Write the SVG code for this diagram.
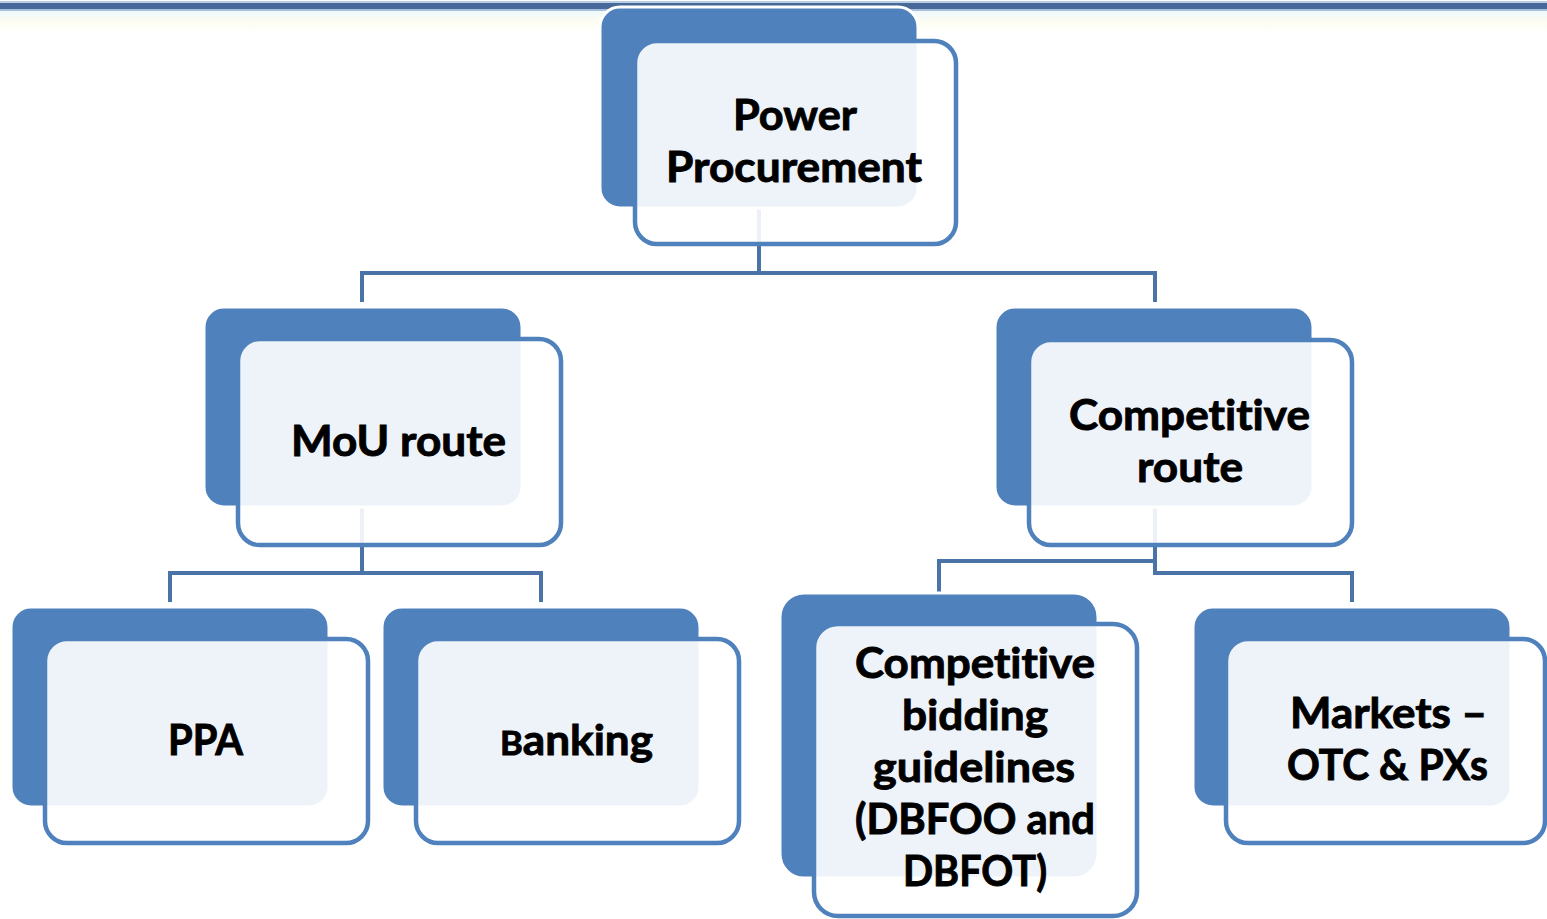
<svg xmlns="http://www.w3.org/2000/svg" width="1547" height="919" viewBox="0 0 1547 919">
  <defs>
    <linearGradient id="haze" x1="0" y1="0" x2="0" y2="1">
      <stop offset="0" stop-color="#EEF8FB"/>
      <stop offset="0.5" stop-color="#FDFDF2"/>
      <stop offset="1" stop-color="#FFFFFF"/>
    </linearGradient>
  </defs>
  <style>
    .back { fill: #4F81BD; stroke: #FFFFFF; stroke-width: 3; }
    .front { fill: #FFFFFF; fill-opacity: 0.9; stroke: #4F81BD; stroke-width: 4.5; }
    .conn { fill: none; stroke: #4A73A8; stroke-width: 4; stroke-linejoin: miter; }
    .lbl { font-family: Lato, "Open Sans", "Liberation Sans", sans-serif; font-weight: bold; font-size: 42px; fill: #000000; stroke: #000000; stroke-width: 0.9; text-anchor: middle; font-variant-ligatures: none; font-feature-settings: "liga" 0, "clig" 0; }
  </style>

  <rect width="1547" height="919" fill="#FFFFFF"/>

  <!-- header rule -->
  <g id="header">
    <rect x="0" y="11" width="1547" height="22" fill="url(#haze)"/>
    <rect x="0" y="1" width="1547" height="2" fill="#B9CDE5"/>
    <rect x="0" y="3" width="1547" height="6" fill="#46699A"/>
    <rect x="0" y="9" width="1547" height="2" fill="#A8BFDC"/>
  </g>

  <!-- connectors -->
  <g id="connectors">
    <path class="conn" d="M759 208 V273 M362 302 V273 H1155 V302"/>
    <path class="conn" d="M362 507 V573 M170 602 V573 H541 V602"/>
    <path class="conn" d="M1155 507 V573 H1352 V602 M1155 561 H939 V596"/>
  </g>

  <g id="node-power">
    <rect class="back" x="600" y="7" width="318" height="201" rx="20"/>
    <rect class="front" x="635" y="41" width="321" height="203" rx="22"/>
    <text class="lbl" x="795" y="130" textLength="124" lengthAdjust="spacingAndGlyphs">Power</text>
    <text class="lbl" x="794" y="182" textLength="256" lengthAdjust="spacingAndGlyphs">Procurement</text>
  </g>

  <g id="node-mou">
    <rect class="back" x="204" y="307" width="318" height="200" rx="20"/>
    <rect class="front" x="238" y="339" width="323" height="206" rx="22"/>
    <text class="lbl" x="398.5" y="456" textLength="215" lengthAdjust="spacingAndGlyphs">MoU route</text>
  </g>

  <g id="node-competitive">
    <rect class="back" x="995" y="307" width="318" height="200" rx="20"/>
    <rect class="front" x="1029" y="340" width="323" height="205" rx="22"/>
    <text class="lbl" x="1189.5" y="430" textLength="241" lengthAdjust="spacingAndGlyphs">Competitive</text>
    <text class="lbl" x="1190" y="482" textLength="106" lengthAdjust="spacingAndGlyphs">route</text>
  </g>

  <g id="node-ppa">
    <rect class="back" x="11" y="607" width="318" height="200" rx="20"/>
    <rect class="front" x="45" y="639" width="323" height="204" rx="22"/>
    <text class="lbl" x="205.5" y="755" textLength="75" lengthAdjust="spacingAndGlyphs">PPA</text>
  </g>

  <g id="node-banking">
    <rect class="back" x="382" y="607" width="318" height="200" rx="20"/>
    <rect class="front" x="416" y="639" width="323" height="204" rx="22"/>
    <text class="lbl" x="576.5" y="755" textLength="153" lengthAdjust="spacingAndGlyphs"><tspan font-size="33">B</tspan>anking</text>
  </g>

  <g id="node-bidding">
    <rect class="back" x="780" y="593" width="318" height="285" rx="24"/>
    <rect class="front" x="814" y="624" width="323" height="292" rx="24"/>
    <text class="lbl" x="975" y="678" textLength="240" lengthAdjust="spacingAndGlyphs">Competitive</text>
    <text class="lbl" x="975" y="730" textLength="146" lengthAdjust="spacingAndGlyphs">bidding</text>
    <text class="lbl" x="974" y="782" textLength="202" lengthAdjust="spacingAndGlyphs">guidelines</text>
    <text class="lbl" x="975" y="834" textLength="240" lengthAdjust="spacingAndGlyphs">(DBFOO and</text>
    <text class="lbl" x="975" y="886" textLength="144" lengthAdjust="spacingAndGlyphs">DBFOT)</text>
  </g>

  <g id="node-markets">
    <rect class="back" x="1193" y="607" width="318" height="200" rx="20"/>
    <rect class="front" x="1226" y="639" width="319" height="204" rx="22"/>
    <text class="lbl" x="1388.5" y="728" textLength="197" lengthAdjust="spacingAndGlyphs">Markets –</text>
    <text class="lbl" x="1387.5" y="780" textLength="201" lengthAdjust="spacingAndGlyphs">OTC &amp; PXs</text>
  </g>
</svg>
